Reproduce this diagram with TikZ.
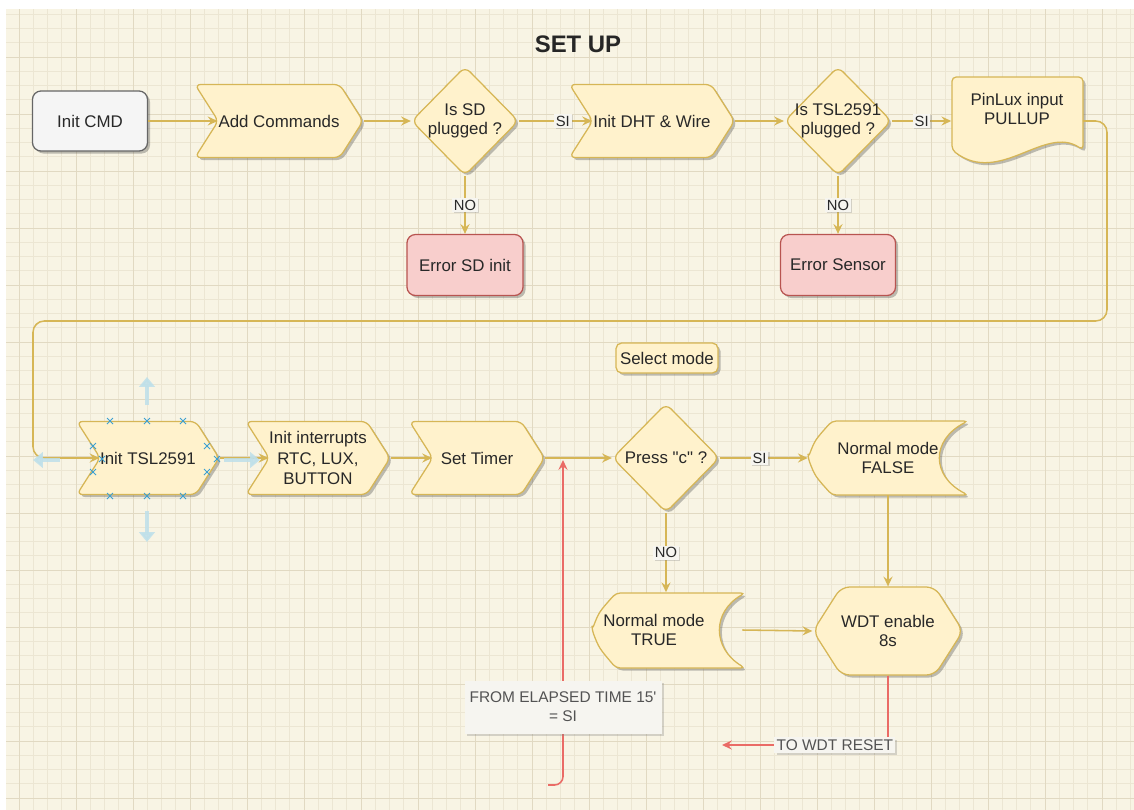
\documentclass[tikz,border=0pt]{standalone}
\definecolor{gridbg}{RGB}{248,244,228}
\definecolor{gridmin}{RGB}{236,230,211}
\definecolor{gridmaj}{RGB}{225,217,194}
\definecolor{boxfill}{RGB}{255,242,204}
\definecolor{boxline}{RGB}{214,182,86}
\definecolor{flowgold}{RGB}{214,182,86}
\definecolor{cmdfill}{RGB}{245,245,245}
\definecolor{cmdline}{RGB}{102,102,102}
\definecolor{errfill}{RGB}{248,206,204}
\definecolor{errline}{RGB}{184,84,80}
\definecolor{resetred}{RGB}{234,107,102}
\definecolor{lblfill}{RGB}{246,245,240}
\definecolor{selblue}{RGB}{60,160,210}
\definecolor{handleblue}{RGB}{190,224,234}
\definecolor{inktext}{RGB}{40,40,40}
\usepackage{fontspec}
\setmainfont{Liberation Sans}
\usepackage{xcolor}
\usepackage{tikz}
\usetikzlibrary{arrows.meta,positioning,calc,backgrounds,shapes.geometric,shapes.symbols,shadows}
\def\pxu{0.025cm}
\tikzset{
  flow/.style={flowgold,line width=1.1pt,-{Stealth[length=7pt,width=6.5pt,inset=2.5pt]}},
  resetln/.style={resetred,line width=1.1pt,-{Stealth[length=7pt,width=6.5pt,inset=2.5pt]}},
  shad/.style={drop shadow={shadow xshift=1.8pt,shadow yshift=-1.8pt,opacity=.35,fill=black!70}},
  boxtxt/.style={font=\fontsize{12}{14}\selectfont,text=inktext,align=center},
  stepbox/.style={boxtxt,signal,signal to=east,signal from=west,signal pointer angle=115,
    draw=boxline,fill=boxfill,line width=0.9pt,rounded corners=4pt,inner sep=0pt,
    minimum height=73*\pxu,shad},
  askbox/.style={boxtxt,diamond,aspect=1,draw=boxline,fill=boxfill,line width=0.9pt,
    rounded corners=5pt,inner sep=-1.5pt,minimum width=107*\pxu,minimum height=109*\pxu,shad},
  cmdbox/.style={boxtxt,rectangle,rounded corners=6pt,draw=cmdline,fill=cmdfill,line width=0.9pt,shad},
  errbox/.style={boxtxt,rectangle,rounded corners=6pt,draw=errline,fill=errfill,line width=0.9pt,
    minimum height=61*\pxu,shad},
  shapeln/.style={draw=boxline,fill=boxfill,line width=0.9pt,rounded corners=3pt,shad},
  linelab/.style={font=\fontsize{10.5}{12}\selectfont,text=inktext,fill=lblfill,inner sep=1.2pt,
    sharp corners,drop shadow={shadow xshift=1pt,shadow yshift=-1pt,opacity=.3}},
  notelab/.style={font=\fontsize{11}{13.5}\selectfont,text=inktext!80,fill=lblfill,align=center,
    inner sep=1.5pt,sharp corners,drop shadow={shadow xshift=1.5pt,shadow yshift=-1.5pt,opacity=.3}},
  handle/.style={handleblue,opacity=.85,line width=3.5pt,-{Triangle[length=7pt,width=11pt]}},
  selx/.style={selblue,line width=0.6pt},
}
\begin{document}
\begin{tikzpicture}[x=0.025cm,y=-0.025cm]
  \useasboundingbox (0,0) rectangle (1134,810);
  % paper and grid
  \fill[white] (0,0) rectangle (1134,810);
  \fill[gridbg] (6,9) rectangle (1134,810);
  \foreach \i in {0,...,78} \draw[gridmin,line width=0.4pt] ({19+14.25*\i},9) -- ({19+14.25*\i},810);
  \foreach \j in {1,...,56} \draw[gridmin,line width=0.4pt] (6,{14.25*\j}) -- (1134,{14.25*\j});
  \foreach \i in {0,...,19} \draw[gridmaj,line width=0.6pt] ({19+57*\i},9) -- ({19+57*\i},810);
  \foreach \j in {1,...,14} \draw[gridmaj,line width=0.6pt] (6,{57*\j}) -- (1134,{57*\j});

  \node[font=\bfseries\fontsize{17}{18}\selectfont,text=black!85] (title) at (578,44) {SET UP};

  % first row
  \node[cmdbox,minimum width=115*\pxu,minimum height=60*\pxu] (cmd) at (90,121) {Init CMD};
  \node[stepbox,minimum width=168*\pxu] (add) at (279,121) {Add Commands};
  \node[askbox] (sdq) at (465,121) {Is SD\\plugged ?};
  \node[stepbox,minimum width=165*\pxu] (dht) at (652,121) {Init DHT \& Wire};
  \node[askbox,inner sep=-3pt] (tslq) at (838,121) {Is TSL2591\\plugged ?};
  \path[shapeln] (952,77) -- (1083,77) -- (1083,150)
    .. controls (1045,124) and (1000,186) .. (952,150) -- cycle;
  \node[boxtxt,minimum width=131*\pxu,minimum height=88*\pxu,text depth=0.6cm] (pin) at (1017,121)
    {PinLux input\\PULLUP};
  \node[errbox,minimum width=116*\pxu] (esd) at (465,265) {Error SD init};
  \node[errbox,minimum width=115*\pxu] (esn) at (838,265) {Error Sensor};
  \node[boxtxt,rectangle,rounded corners=4pt,draw=boxline,fill=boxfill,line width=0.9pt,
    minimum width=102*\pxu,minimum height=30*\pxu,inner sep=2pt,shad] (sel) at (667,358) {Select mode};

  % second row
  \node[stepbox,minimum width=137*\pxu] (tsli) at (148,458) {Init TSL2591};
  \node[stepbox,minimum width=133*\pxu,font=\fontsize{12}{14.5}\selectfont] (intr) at (318,458)
    {Init interrupts\\RTC, LUX,\\BUTTON};
  \node[stepbox,minimum width=135*\pxu] (tmr) at (477,458) {Set Timer};
  \node[askbox] (prs) at (666,458) {Press \textquotedbl c\textquotedbl{} ?};
  \path[shapeln] (808,458) .. controls (815,440) .. (832,421) -- (968,421)
    .. controls (931,440) and (931,476) .. (968,495) -- (832,495) .. controls (815,476) .. (808,458) -- cycle;
  \node[boxtxt,minimum width=160*\pxu,minimum height=74*\pxu] (fls) at (888,458) {Normal mode\\FALSE};
  \path[shapeln] (592,630) .. controls (599,612) .. (616,593) -- (745,593)
    .. controls (712,612) and (712,648) .. (745,668) -- (616,668) .. controls (599,648) .. (592,630) -- cycle;
  \node[boxtxt,minimum width=120*\pxu,minimum height=75*\pxu] (tru) at (654,630) {Normal mode\\TRUE};
  \node[boxtxt,signal,signal to=east and west,signal pointer angle=115,draw=boxline,fill=boxfill,
    line width=0.9pt,rounded corners=6pt,inner sep=0pt,minimum width=121*\pxu,
    minimum height=88*\pxu,shad] (wdt) at (888,631) {WDT enable\\8s};

  % connectors
  \coordinate (loopR) at (1107,321);
  \coordinate (loopL) at (33,321);
  \draw[flow] (cmd.east) -- (add.west);
  \draw[flow] (add.east) -- (sdq.west);
  \draw[flow] (sdq.east) -- node[linelab,pos=.6]{SI} (dht.west);
  \draw[flow] (dht.east) -- (tslq.west);
  \draw[flow] (tslq.east) -- node[linelab,pos=.5]{SI} (pin.west);
  \draw[flow] (sdq.south) -- node[linelab]{NO} (esd.north);
  \draw[flow] (tslq.south) -- node[linelab]{NO} (esn.north);
  \draw[flow,rounded corners=8pt] (pin.east) -| (loopR) -- (loopL) |- (tsli.west);
  \draw[flow] (tsli.east) -- (intr.west);
  \draw[flow] (intr.east) -- (tmr.west);
  \draw[flow] (tmr.east) -- (prs.west);
  \draw[flow] (prs.east) -- node[linelab,pos=.45]{SI} (fls.west);
  \draw[flow] (prs.south) -- node[linelab]{NO} (prs.south |- tru.north);
  \draw[flow] (fls.south) -- (wdt.north);
  \draw[flow] ([xshift=0.7cm]tru.east) -- (wdt.west);

  % red notes
  \coordinate (elsrc) at (548,785);
  \coordinate (elhit) at (563,460);
  \coordinate (wdtrst) at (722,745);
  \draw[resetln,rounded corners=6pt] (elsrc) -| node[notelab,pos=.62,minimum width=197*\pxu,
    minimum height=53*\pxu]{FROM ELAPSED TIME 15\textquotesingle\\= SI} (elhit);
  \draw[resetln] (wdt.south) |- node[notelab,pos=.66]{TO WDT RESET} (wdtrst);

  % selection handles round Init TSL2591
  \foreach \x/\y in {110/421,147/421,183/421,110/496,147/496,183/496,
                     93/446,102/459,93/472,207/446,217/459,207/472}
    \draw[selx] (\x-3,\y-3) -- (\x+3,\y+3) (\x-3,\y+3) -- (\x+3,\y-3);
  \draw[handle] (147,405) -- (147,377);
  \draw[handle] (147,511) -- (147,542);
  \draw[handle] (60,460) -- (33,460);
  \draw[handle] (224,460) -- (260,460);
\end{tikzpicture}
\end{document}
